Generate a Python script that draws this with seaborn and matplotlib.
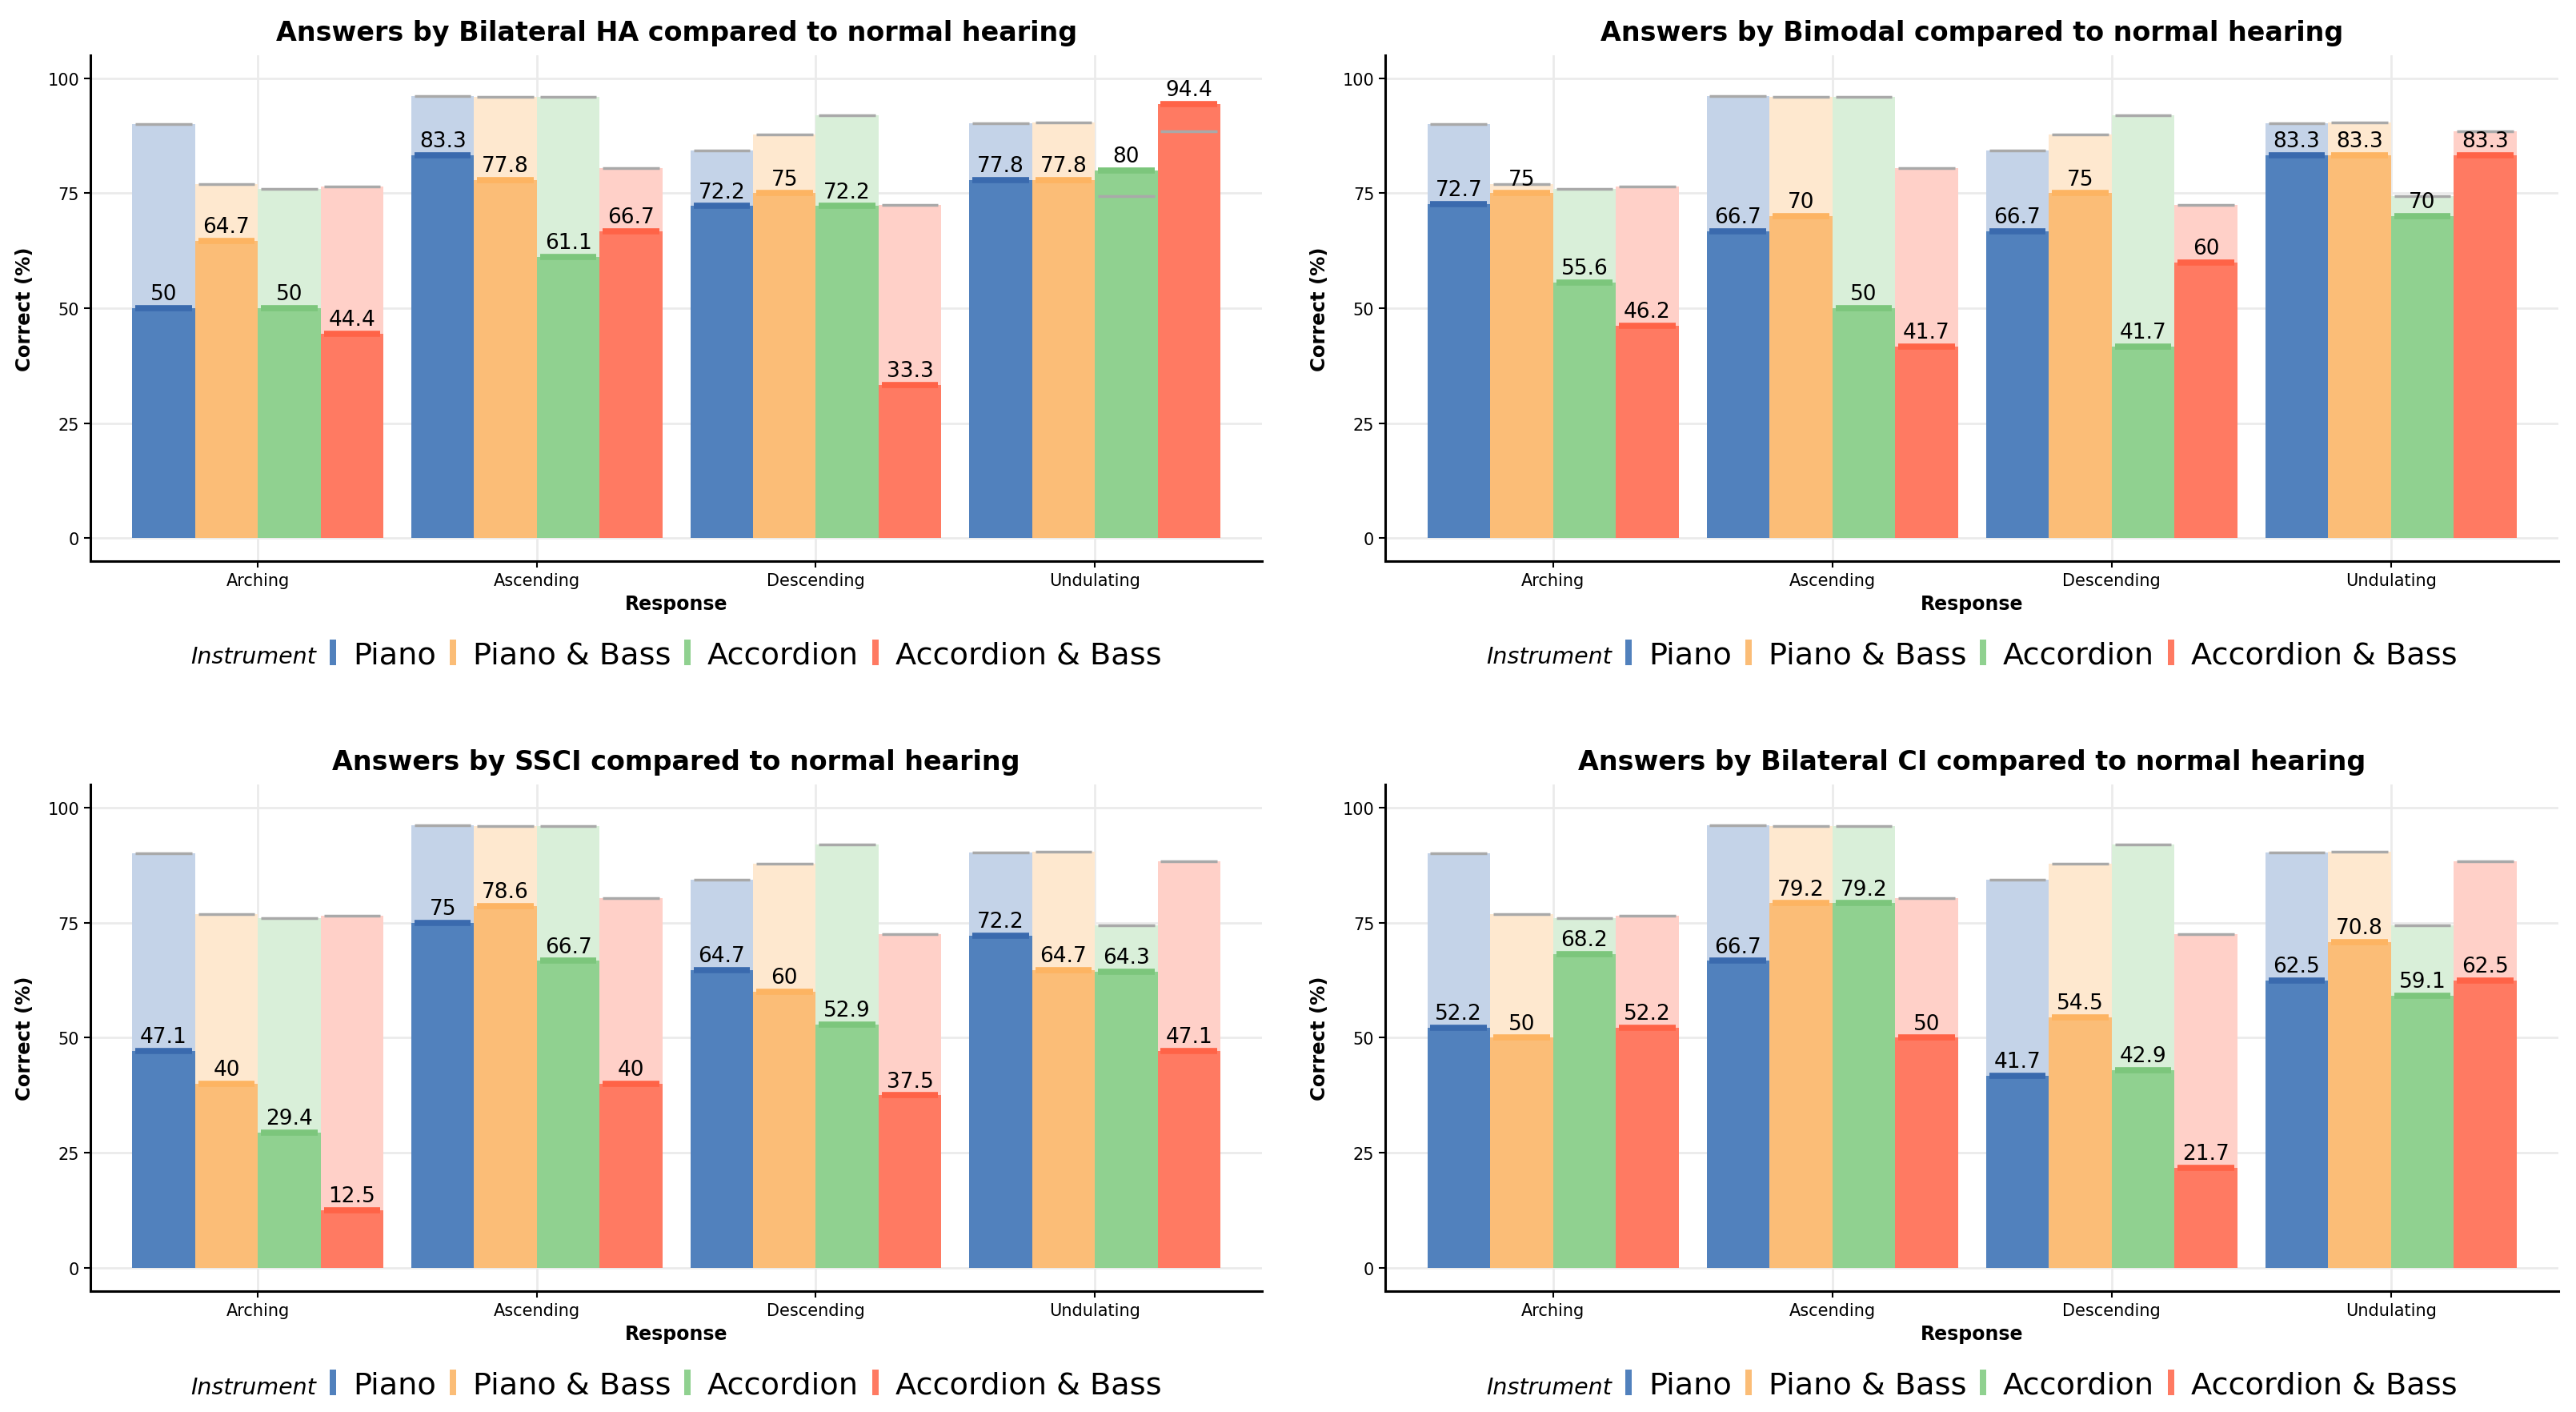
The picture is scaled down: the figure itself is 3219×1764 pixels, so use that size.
import matplotlib
matplotlib.use('Agg')
import matplotlib.pyplot as plt
import seaborn as sns
import pandas as pd
from matplotlib.patches import Patch

responses = ['Arching', 'Ascending', 'Descending', 'Undulating']
instruments = ['Piano', 'Piano & Bass', 'Accordion', 'Accordion & Bass']

# rows = response, columns = instrument
normal_hearing = [[90.0, 76.9, 75.9, 76.5],
                  [96.2, 96.0, 96.0, 80.4],
                  [84.3, 87.8, 92.0, 72.5],
                  [90.2, 90.4, 74.4, 88.4]]
bilateral_ha = [[50, 64.7, 50, 44.4],
                [83.3, 77.8, 61.1, 66.7],
                [72.2, 75, 72.2, 33.3],
                [77.8, 77.8, 80, 94.4]]
bimodal = [[72.7, 75, 55.6, 46.2],
           [66.7, 70, 50, 41.7],
           [66.7, 75, 41.7, 60],
           [83.3, 83.3, 70, 83.3]]
ssci = [[47.1, 40, 29.4, 12.5],
        [75, 78.6, 66.7, 40],
        [64.7, 60, 52.9, 37.5],
        [72.2, 64.7, 64.3, 47.1]]
bilateral_ci = [[52.2, 50, 68.2, 52.2],
                [66.7, 79.2, 79.2, 50],
                [41.7, 54.5, 42.9, 21.7],
                [62.5, 70.8, 59.1, 62.5]]

panel_titles = ['Answers by Bilateral HA compared to normal hearing',
                'Answers by Bimodal compared to normal hearing',
                'Answers by SSCI compared to normal hearing',
                'Answers by Bilateral CI compared to normal hearing']

bar_colors = ['#5181BD', '#FBBD77', '#90D190', '#FF7A62']
ghost_colors = ['#C4D3E8', '#FEE8CF', '#D9EFD9', '#FFD0C8']
top_colors = ['#3A6AAE', '#FDB462', '#7CC67C', '#FF6347']
nh_line_color = '#A9A9A9'

sns.set_theme(style='whitegrid', rc={
    'axes.edgecolor': 'black',
    'axes.linewidth': 2.2,
    'grid.color': '#EBEBEB',
    'grid.linewidth': 2.0,
    'text.color': 'black',
    'axes.labelcolor': 'black',
})
plt.rcParams['font.family'] = ['DejaVu Sans']


def long_frame(values):
    rows = []
    for resp, row in zip(responses, values):
        for inst, v in zip(instruments, row):
            rows.append({'Response': resp, 'Instrument': inst, 'Correct': v})
    return pd.DataFrame(rows)


def draw_panel(ax, values, title):
    nh = long_frame(normal_hearing)
    pt = long_frame(values)
    common = dict(x='Response', y='Correct', hue='Instrument', order=responses,
                  hue_order=instruments, saturation=1, width=0.9, gap=0,
                  errorbar=None, linewidth=0, legend=False, ax=ax)
    sns.barplot(data=nh, palette=ghost_colors, **common)
    sns.barplot(data=pt, palette=bar_colors, **common)

    n = len(instruments)
    # patient results: thick coloured top segment + label
    for i, cont in enumerate(ax.containers[n:]):
        for bar in cont:
            x0, w, h = bar.get_x(), bar.get_width(), bar.get_height()
            ax.hlines(h, x0 + 0.05 * w, x0 + 0.95 * w, color=top_colors[i],
                      lw=5.5, zorder=3)
            ax.annotate(f'{h:g}', (x0 + w / 2, h), xytext=(0, 3.5),
                        textcoords='offset points', ha='center', va='bottom',
                        fontsize=19, color='black', zorder=5)
    # normal hearing reference lines
    for cont in ax.containers[:n]:
        for bar in cont:
            x0, w, h = bar.get_x(), bar.get_width(), bar.get_height()
            ax.hlines(h, x0 + 0.05 * w, x0 + 0.95 * w, color=nh_line_color,
                      lw=2.5, zorder=4)

    ax.set_xlim(-0.6, 3.6)
    ax.set_ylim(-5, 105)
    ax.set_yticks([0, 25, 50, 75, 100])
    ax.set_axisbelow(True)
    ax.xaxis.grid(True)
    ax.yaxis.grid(True)
    for side in ['top', 'right']:
        ax.spines[side].set_visible(False)
    ax.tick_params(axis='both', length=6, width=1.5, color='black',
                   direction='out', bottom=True, left=True, labelsize=15,
                   labelcolor='black', pad=4)
    ax.set_title(title, fontsize=24, fontweight='bold', pad=14, color='black')
    ax.set_xlabel('Response', fontsize=17, fontweight='bold', labelpad=5)
    ax.set_ylabel('Correct (%)', fontsize=17.5, fontweight='bold', labelpad=12)

    handles = [Patch(color='none')] + [Patch(facecolor=c, linewidth=0) for c in bar_colors]
    labels = ['Instrument'] + instruments
    leg = ax.legend(handles, labels, loc='center', bbox_to_anchor=(0.49, -0.185),
                    ncol=5, frameon=False, fontsize=27.5, handlelength=0.2,
                    handleheight=0.9, handletextpad=0.55, columnspacing=0.45)
    leg.get_texts()[0].set_fontstyle('italic')
    leg.get_texts()[0].set_fontsize(20.5)


fig = plt.figure(figsize=(32.19, 17.65), dpi=100)
positions = [(0.0351, 0.6023, 0.4549, 0.3580),
             (0.5378, 0.6023, 0.4554, 0.3580),
             (0.0351, 0.0856, 0.4549, 0.3586),
             (0.5378, 0.0856, 0.4554, 0.3586)]
datasets = [bilateral_ha, bimodal, ssci, bilateral_ci]

for pos, values, title in zip(positions, datasets, panel_titles):
    ax = fig.add_axes(pos)
    draw_panel(ax, values, title)

fig.savefig('out.png', dpi=100, facecolor='white')
